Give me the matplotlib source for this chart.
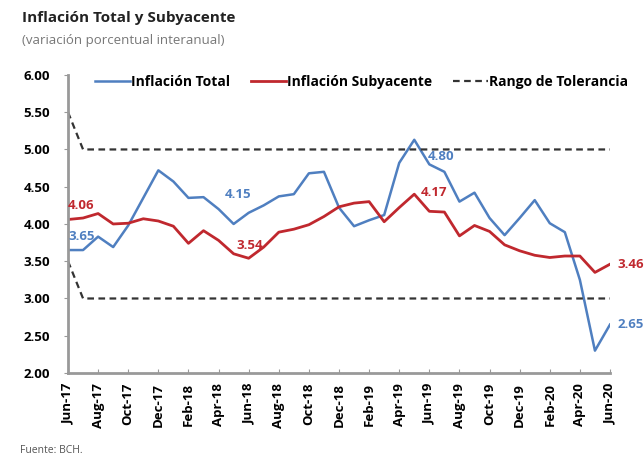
import matplotlib
matplotlib.use('Agg')
from matplotlib import pyplot as plt

plt.rcParams['font.family'] = ['Open Sans', 'DejaVu Sans']

# meses jun-17 .. jun-20
meses = ['Jun-17', 'Jul-17', 'Aug-17', 'Sep-17', 'Oct-17', 'Nov-17', 'Dec-17',
         'Jan-18', 'Feb-18', 'Mar-18', 'Apr-18', 'May-18', 'Jun-18', 'Jul-18',
         'Aug-18', 'Sep-18', 'Oct-18', 'Nov-18', 'Dec-18', 'Jan-19', 'Feb-19',
         'Mar-19', 'Apr-19', 'May-19', 'Jun-19', 'Jul-19', 'Aug-19', 'Sep-19',
         'Oct-19', 'Nov-19', 'Dec-19', 'Jan-20', 'Feb-20', 'Mar-20', 'Apr-20',
         'May-20', 'Jun-20']

inflacion_total = [3.65, 3.65, 3.83, 3.69, 3.98, 4.35, 4.72, 4.57, 4.35, 4.36,
                   4.20, 4.00, 4.15, 4.25, 4.37, 4.40, 4.68, 4.70, 4.22, 3.97,
                   4.05, 4.12, 4.82, 5.13, 4.80, 4.70, 4.30, 4.42, 4.08, 3.85,
                   4.08, 4.32, 4.01, 3.89, 3.25, 2.30, 2.65]

inflacion_sub = [4.06, 4.08, 4.14, 4.00, 4.01, 4.07, 4.04, 3.97, 3.74, 3.91,
                 3.78, 3.60, 3.54, 3.69, 3.89, 3.93, 3.99, 4.10, 4.23, 4.28,
                 4.30, 4.03, 4.22, 4.40, 4.17, 4.16, 3.84, 3.98, 3.90, 3.72,
                 3.64, 3.58, 3.55, 3.57, 3.57, 3.35, 3.46]

rango_sup = [5.5] + [5.0] * 36
rango_inf = [3.5] + [3.0] * 36

# etiquetas de junio: (indice, texto)
etiq_total = [(0, '3.65'), (12, '4.15'), (24, '4.80'), (36, '2.65')]
etiq_sub = [(0, '4.06'), (12, '3.54'), (24, '4.17'), (36, '3.46')]

azul = '#4F7FC0'
rojo = '#C0282E'

fig = plt.figure(figsize=(6.44, 4.57), dpi=100)
ax = fig.add_axes([0.1056, 0.1838, 0.8416, 0.6522])

x = list(range(len(meses)))
ax.plot(x, inflacion_total, color=azul, lw=1.8, label='Inflación Total')
ax.plot(x, inflacion_sub, color=rojo, lw=2.0, label='Inflación Subyacente')
ax.plot(x, rango_sup, color='#333333', lw=1.6, ls=(0, (3, 2)), label='Rango de Tolerancia')
ax.plot(x, rango_inf, color='#333333', lw=1.6, ls=(0, (3, 2)))

# etiquetas de datos
pos_total = {0: (0.0, 3.83, 'left'), 12: (11.3, 4.39, 'center'),
             24: (24.8, 4.90, 'center'), 36: (36.5, 2.65, 'left')}
pos_sub = {0: (0.0, 4.25, 'left'), 12: (12.1, 3.71, 'center'),
           24: (24.3, 4.42, 'center'), 36: (36.5, 3.45, 'left')}
for i, t in etiq_total:
    px, py, ha = pos_total[i]
    ax.text(px, py, t, color=azul, fontsize=9.5, fontweight='bold', ha=ha, va='center', clip_on=False)
for i, t in etiq_sub:
    px, py, ha = pos_sub[i]
    ax.text(px, py, t, color=rojo, fontsize=9.5, fontweight='bold', ha=ha, va='center', clip_on=False)

ax.set_xlim(0, 36)
ax.set_ylim(2.0, 6.0)
ax.set_yticks([2.0, 2.5, 3.0, 3.5, 4.0, 4.5, 5.0, 5.5, 6.0])
ax.set_yticklabels(['%.2f' % v for v in ax.get_yticks()], fontsize=9.5, fontweight='bold')
ax.set_xticks(x[::2])
ax.set_xticklabels(meses[::2], rotation=90, fontsize=9.5, fontweight='bold')

for s in ['top', 'right']:
    ax.spines[s].set_visible(False)
for s in ['left', 'bottom']:
    ax.spines[s].set_color('#999999')
    ax.spines[s].set_linewidth(2)
ax.tick_params(axis='y', direction='out', length=3, color='#999999', pad=10)
ax.tick_params(axis='x', direction='in', length=3, color='#999999', pad=7)

ax.legend(loc='center left', bbox_to_anchor=(0.05, 0.976), ncol=3, frameon=False,
          prop={'size': 10, 'weight': 'bold'}, handlelength=2.5, handletextpad=0.1,
          columnspacing=1.5, borderpad=0, borderaxespad=0)

fig.text(0.034, 0.952, 'Inflación Total y Subyacente', fontsize=11, fontweight='bold', color='#222222')
fig.text(0.034, 0.903, '(variación porcentual interanual)', fontsize=9.5, color='#777777')
fig.text(0.031, 0.008, 'Fuente: BCH.', fontsize=7.5, color='#555555')

plt.savefig('out.png')
